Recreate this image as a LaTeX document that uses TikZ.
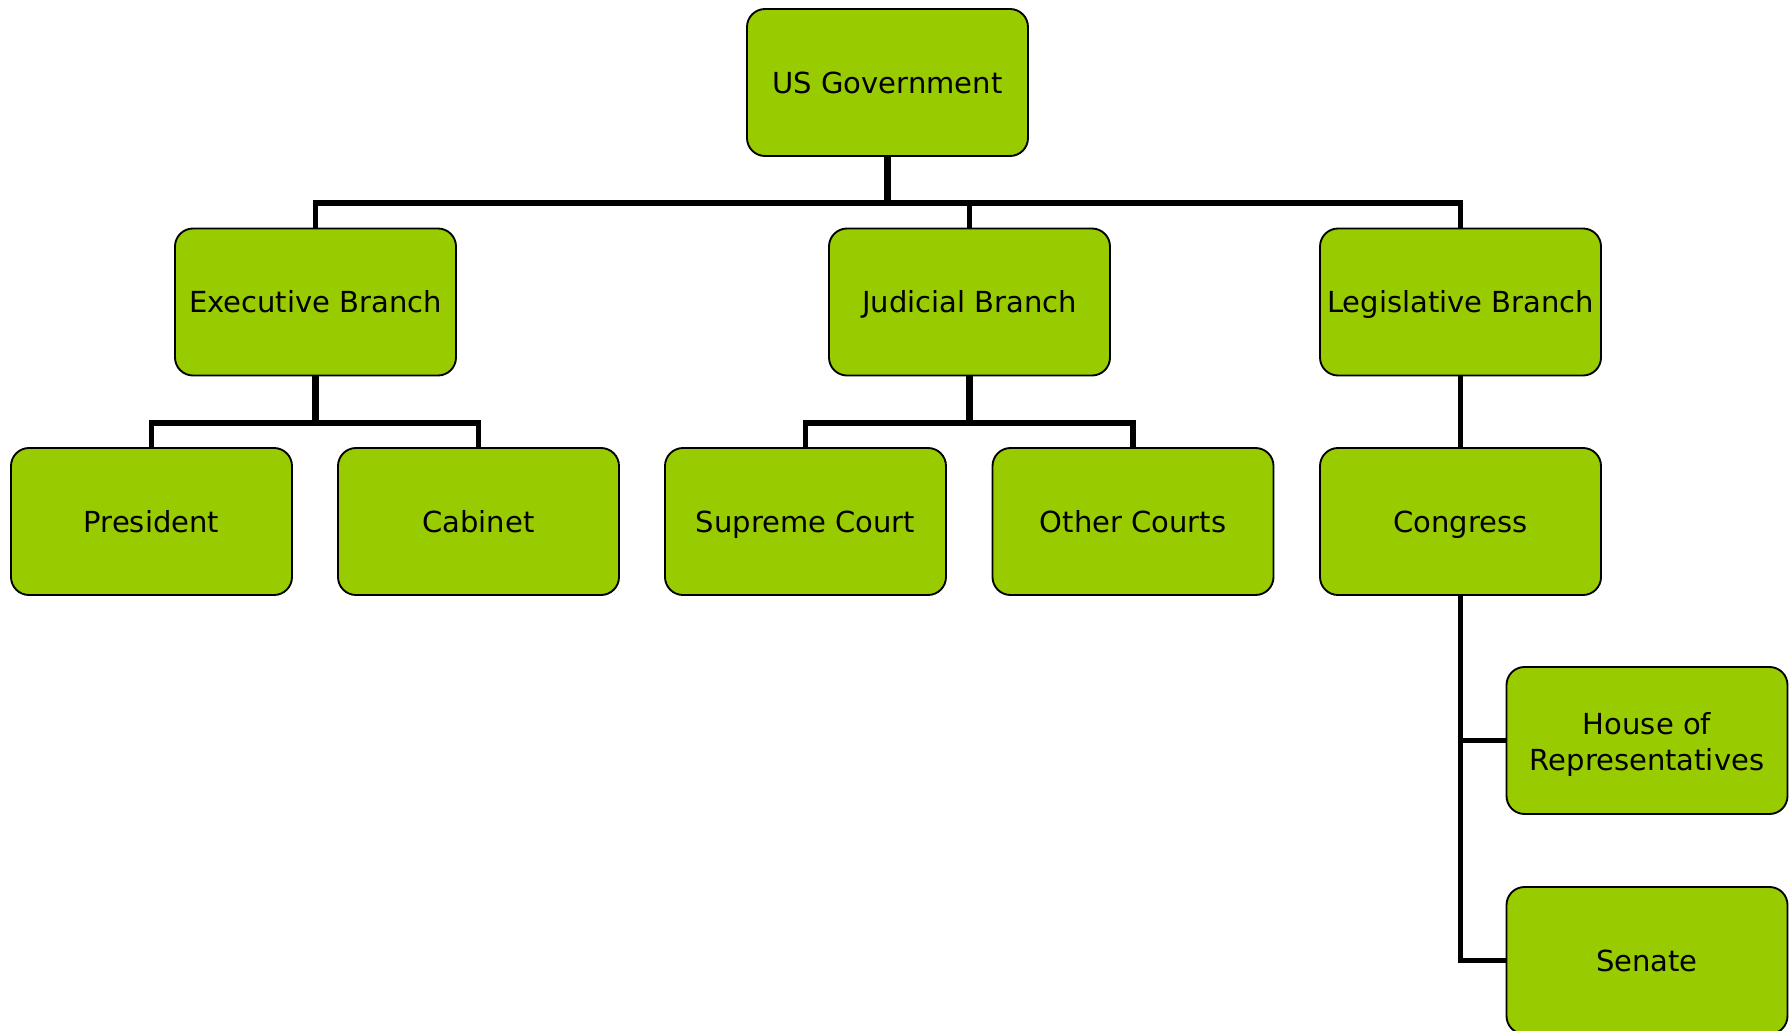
\documentclass[tikz,border=0pt]{standalone}
\usepackage{fontspec}
\setmainfont{DejaVu Sans}
\definecolor{leafgreen}{HTML}{99CC00}
\begin{document}
\begin{tikzpicture}[
  x=0.75pt, y=-0.75pt,
  orgbox/.style={draw=black, line width=1.4pt, fill=leafgreen,
    rounded corners=13.5pt, minimum width=210.75pt, minimum height=110.25pt,
    inner sep=0pt, align=center, text height=15.9pt, text depth=0pt,
    font=\fontsize{21.75}{26.6}\selectfont},
  twoline/.style={text height=44.8pt},
  trunk/.style={draw=black, line width=4.8pt, line join=miter},
  branch/.style={draw=black, line width=3.9pt, line join=miter}
]
\useasboundingbox (0,0) rectangle (1792,1031);
\clip (0,0) rectangle (1792,1031);

% tree of boxes (centres in pixel units)
\node[orgbox] (usgov)    at (887.5, 82.5)  {US Government};
\node[orgbox] (exec)     at (315.5, 302)   {Executive Branch};
\node[orgbox] (jud)      at (969.5, 302)   {Judicial Branch};
\node[orgbox] (leg)      at (1460.5, 302)  {Legislative Branch};
\node[orgbox] (pres)     at (151.5, 521.5) {President};
\node[orgbox] (cab)      at (478.5, 521.5) {Cabinet};
\node[orgbox] (supreme)  at (805.5, 521.5) {Supreme Court};
\node[orgbox] (other)    at (1133, 521.5)  {Other Courts};
\node[orgbox] (congress) at (1460.5, 521.5){Congress};
\node[orgbox, twoline] (house) at (1647, 740.5) {House of\\Representatives};
\node[orgbox] (senate)   at (1647, 960.5)  {Senate};

% bus junctions
\coordinate (topbus)  at (887.5, 203);
\coordinate (execbus) at (315.5, 423);
\coordinate (judbus)  at (969.5, 423);

% connectors from the top box to the three branches
\draw[trunk] (usgov.south) -- (topbus);
\draw[branch] (exec.north) |- (topbus);
\draw[branch] (jud.north) |- (topbus);
\draw[branch] (leg.north) |- (topbus);

% executive branch
\draw[trunk] (exec.south) -- (execbus);
\draw[branch] (pres.north) |- (execbus);
\draw[branch] (cab.north) |- (execbus);

% judicial branch
\draw[trunk] (jud.south) -- (judbus);
\draw[branch] (supreme.north) |- (judbus);
\draw[branch] (other.north) |- (judbus);

% legislative branch
\draw[branch] (leg.south) -- (congress.north);
\draw[branch] (congress.south) |- (house.west);
\draw[branch] (congress.south) |- (senate.west);
\end{tikzpicture}
\end{document}
